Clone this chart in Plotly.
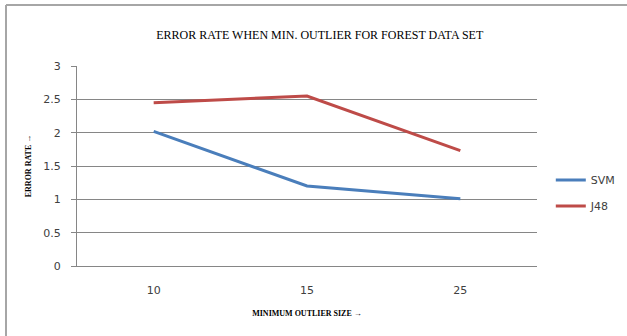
import plotly.graph_objects as go

categories = ["10", "15", "25"]
svm = [2.02, 1.2, 1.01]
j48 = [2.45, 2.55, 1.73]
series_names = ["SVM", "J48"]
y_ticks = [0, 0.5, 1, 1.5, 2, 2.5, 3]
y_tick_labels = ["0", "0.5", "1", "1.5", "2", "2.5", "3"]

fig = go.Figure()
fig.add_trace(go.Scatter(x=categories, y=svm, name=series_names[0], mode="lines",
                         legendgroup="a", line=dict(color="#4A7EBB", width=3)))
fig.add_trace(go.Scatter(x=categories, y=j48, name=series_names[1], mode="lines",
                         legendgroup="b", line=dict(color="#BE4B48", width=3)))

fig.update_layout(
    width=627, height=336,
    margin=dict(l=77, r=90, t=66, b=70, autoexpand=False),
    paper_bgcolor="white", plot_bgcolor="white",
    showlegend=True,
    legend=dict(x=1.03, y=0.365, yanchor="middle", xanchor="left",
                font=dict(family="DejaVu Sans", size=11, color="#404040"),
                itemwidth=30, tracegroupgap=7, bgcolor="rgba(0,0,0,0)"),
    title=dict(text="ERROR RATE WHEN MIN. OUTLIER FOR FOREST DATA SET",
               x=0.51, xanchor="center", y=0.895, yanchor="middle",
               font=dict(family="Liberation Serif", size=12, color="#000000")),
    xaxis=dict(type="category", showgrid=False, showline=True, linecolor="#868686",
               linewidth=1, ticks="", ticklabelstandoff=14,
               tickfont=dict(family="DejaVu Sans", size=11, color="#404040"),
               title=dict(text="<b>MINIMUM OUTLIER SIZE →</b>", standoff=14,
                          font=dict(family="Liberation Serif", size=8, color="#000000")),
               range=[-0.5, 2.5]),
    yaxis=dict(range=[0, 3], tickvals=y_ticks, ticktext=y_tick_labels,
               showgrid=True, gridcolor="#868686", gridwidth=1,
               showline=True, linecolor="#868686", linewidth=1,
               ticks="outside", ticklen=5, tickcolor="#868686",
               ticklabelstandoff=8, zeroline=False,
               tickfont=dict(family="DejaVu Sans", size=11, color="#404040"),
               title=dict(text="<b>ERROR RATE →</b>", standoff=10,
                          font=dict(family="Liberation Serif", size=8, color="#000000"))),
)

fig.add_shape(type="line", xref="paper", yref="paper",
              x0=-71/460, x1=-71/460, y0=-70/200, y1=(200+66-5)/200,
              line=dict(color="#A6A6A6", width=2))
fig.add_shape(type="line", xref="paper", yref="paper",
              x0=-71/460, x1=(460+90)/460, y0=(200+66-5)/200, y1=(200+66-5)/200,
              line=dict(color="#A6A6A6", width=2))

fig.write_html("out.html")
